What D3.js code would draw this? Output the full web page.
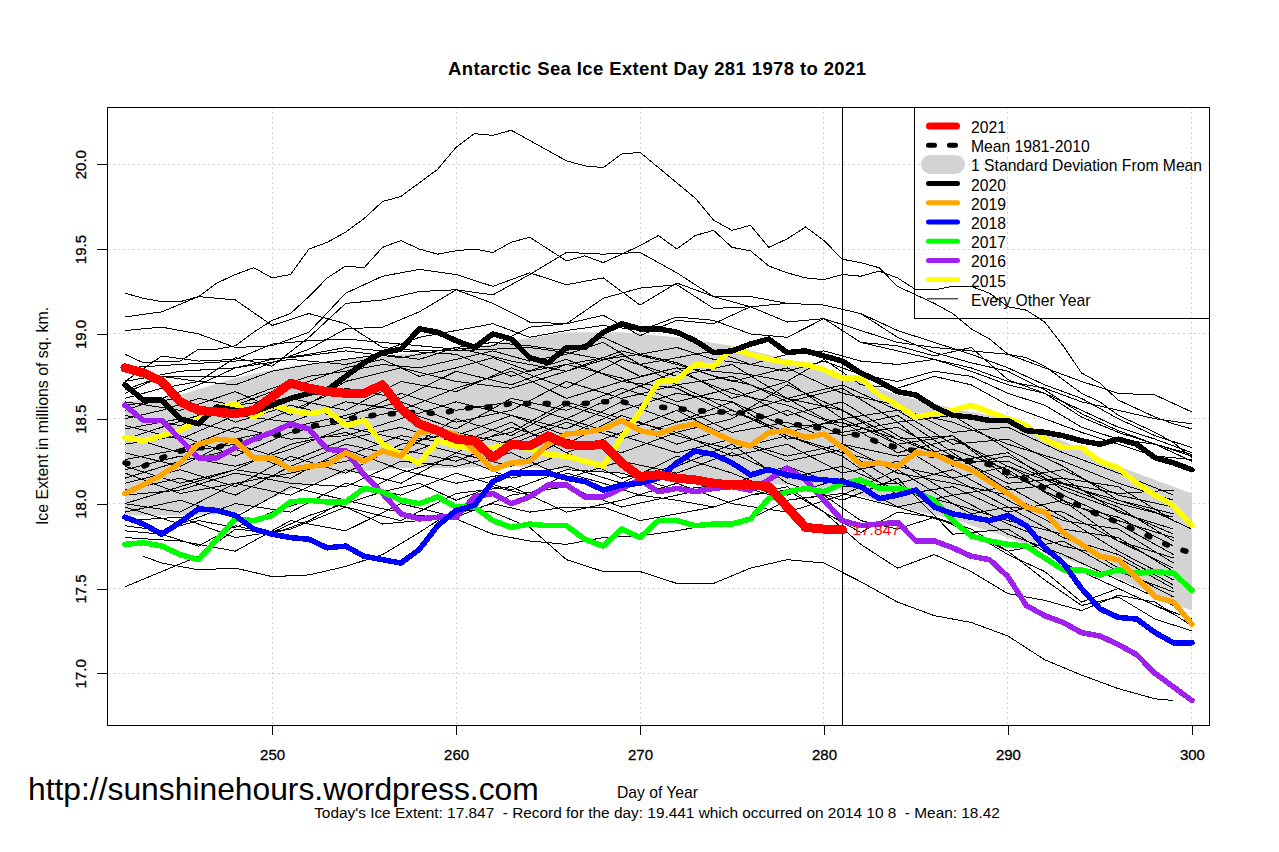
<!DOCTYPE html>
<html>
<head>
<meta charset="utf-8">
<title>Antarctic Sea Ice Extent</title>
<script src="https://cdn.jsdelivr.net/npm/d3@7/dist/d3.min.js"></script>
<style>
html, body { margin: 0; padding: 0; background: #fff; }
text { font-family: "Liberation Sans", Arial, sans-serif; fill: #000; white-space: pre; }
</style>
</head>
<body>
<script>
var xTicks = [250, 260, 270, 280, 290, 300];
var yTicks = [17.0, 17.5, 18.0, 18.5, 19.0, 19.5, 20.0];

var days = d3.range(242, 301);
var evenDays = d3.range(242, 301, 2);
var thirdDays = d3.range(242, 300, 3);
var lowestDays = [243].concat(d3.range(244, 299, 2), [299]);
var bandDays = thirdDays.concat([300]);

var ice2021 = [18.80,18.77,18.72,18.60,18.55,18.54,18.53,18.55,18.63,18.71,18.68,18.66,18.65,18.65,18.70,18.56,18.47,18.43,18.38,18.37,18.27,18.35,18.34,18.40,18.35,18.34,18.35,18.24,18.16,18.17,18.15,18.14,18.12,18.11,18.11,18.10,17.98,17.86,17.85,17.847];
var ice2020 = [18.70,18.61,18.61,18.50,18.47,18.57,18.55,18.54,18.58,18.62,18.65,18.67,18.75,18.83,18.89,18.91,19.03,19.01,18.96,18.92,19.00,18.97,18.86,18.83,18.92,18.92,19.01,19.06,19.03,19.03,19.01,18.96,18.89,18.90,18.94,18.97,18.89,18.90,18.87,18.84,18.77,18.72,18.66,18.64,18.57,18.52,18.51,18.49,18.49,18.43,18.42,18.40,18.37,18.35,18.38,18.35,18.27,18.24,18.20];
var ice2019 = [18.06,18.11,18.17,18.24,18.35,18.38,18.37,18.27,18.27,18.20,18.22,18.23,18.30,18.25,18.31,18.28,18.42,18.43,18.41,18.31,18.20,18.24,18.25,18.35,18.41,18.42,18.44,18.49,18.43,18.41,18.45,18.47,18.42,18.37,18.34,18.42,18.43,18.39,18.41,18.33,18.23,18.24,18.22,18.30,18.29,18.24,18.20,18.13,18.06,17.98,17.95,17.83,17.76,17.69,17.67,17.56,17.45,17.42,17.29];
var ice2018 = [17.92,17.88,17.82,17.89,17.97,17.96,17.93,17.85,17.82,17.80,17.79,17.74,17.75,17.69,17.67,17.65,17.73,17.87,17.96,17.99,18.13,18.18,18.18,18.18,18.15,18.13,18.08,18.11,18.12,18.15,18.24,18.31,18.29,18.24,18.17,18.20,18.17,18.15,18.14,18.13,18.10,18.03,18.05,18.08,17.98,17.94,17.92,17.90,17.93,17.87,17.74,17.65,17.50,17.38,17.33,17.32,17.24,17.18,17.18];
var ice2017 = [17.76,17.77,17.75,17.70,17.67,17.79,17.91,17.90,17.93,18.01,18.02,18.01,18.01,18.09,18.07,18.02,18.00,18.04,17.98,17.98,17.90,17.86,17.88,17.87,17.87,17.79,17.75,17.85,17.80,17.90,17.90,17.87,17.88,17.88,17.91,18.03,18.07,18.09,18.07,18.12,18.14,18.09,18.09,18.07,18.02,17.90,17.81,17.78,17.76,17.75,17.68,17.61,17.61,17.58,17.61,17.59,17.60,17.59,17.49];
var ice2016 = [18.58,18.49,18.49,18.38,18.27,18.27,18.33,18.38,18.42,18.47,18.44,18.32,18.31,18.17,18.06,17.94,17.91,17.92,17.92,18.04,18.06,18.00,18.04,18.11,18.11,18.04,18.04,18.09,18.14,18.07,18.09,18.07,18.09,18.10,18.08,18.14,18.21,18.14,18.02,17.90,17.87,17.88,17.89,17.78,17.78,17.74,17.69,17.67,17.57,17.40,17.34,17.30,17.24,17.22,17.17,17.11,17.00,16.92,16.84];
var ice2015 = [18.39,18.37,18.40,18.43,18.50,18.56,18.59,18.51,18.58,18.55,18.53,18.55,18.46,18.49,18.35,18.29,18.24,18.37,18.34,18.32,18.33,18.35,18.32,18.29,18.28,18.25,18.22,18.39,18.54,18.72,18.73,18.82,18.81,18.91,18.88,18.85,18.83,18.82,18.79,18.74,18.74,18.64,18.58,18.51,18.53,18.55,18.58,18.54,18.50,18.46,18.38,18.33,18.33,18.25,18.21,18.12,18.05,17.99,17.87];
var iceMean = [18.24,18.22,18.27,18.31,18.33,18.33,18.37,18.38,18.40,18.42,18.45,18.48,18.50,18.51,18.53,18.53,18.54,18.53,18.55,18.57,18.57,18.59,18.59,18.59,18.59,18.59,18.60,18.60,18.58,18.57,18.56,18.55,18.54,18.54,18.53,18.50,18.47,18.46,18.44,18.42,18.40,18.36,18.33,18.31,18.28,18.27,18.25,18.23,18.18,18.14,18.09,18.04,17.98,17.93,17.89,17.84,17.79,17.74,17.71];

var bandUpper = [18.60,18.64,18.74,18.81,18.85,18.88,18.90,18.96,19.01,19.01,18.98,18.93,18.85,18.76,18.64,18.56,18.50,18.37,18.22,18.10,18.06];
var bandLower = [17.93,17.93,17.94,18.08,18.18,18.21,18.21,18.22,18.20,18.18,18.14,18.13,18.11,18.08,17.98,17.91,17.80,17.68,17.56,17.41,17.37];

// the two highest years, read day by day
var thin01 = [19.24,19.21,19.19,19.19,19.22,19.30,19.35,19.39,19.33,19.35,19.50,19.54,19.60,19.68,19.78,19.81,19.89,19.97,20.10,20.18,20.17,20.20,20.14,20.08,20.02,19.99,19.98,20.06,20.07,19.98,19.89,19.80,19.67,19.61,19.64,19.51,19.56,19.63,19.55,19.44,19.42,19.39,19.28,19.23,19.18,19.12,19.03,18.97,18.88,18.86,18.81,18.73,18.65,18.60,18.52,18.47,18.42,18.36,18.27];
var thin02 = [18.88,18.83,18.84,18.84,18.91,18.91,18.93,19.01,19.08,19.12,19.22,19.33,19.40,19.39,19.51,19.55,19.50,19.47,19.49,19.50,19.48,19.54,19.57,19.50,19.43,19.46,19.42,19.47,19.52,19.58,19.50,19.58,19.61,19.51,19.49,19.40,19.36,19.33,19.32,19.35,19.34,19.37,19.33,19.26,19.26,19.28,19.28,19.24,19.16,19.14,19.07,18.93,18.77,18.71,18.61,18.56,18.51,18.47,18.44];

var thin03 = [19.02,19.04,19.00,18.92,18.93,19.01,19.24,19.34,19.38,19.35,19.28,19.36,19.29,19.33,19.17,19.30,19.22,19.16,19.07,19.09,18.95,18.90,18.85,18.78,18.70,18.65,18.55,18.45,18.38,18.30];
var thin04 = [18.67,18.75,18.72,18.86,18.81,18.98,19.18,19.20,19.25,19.26,19.23,19.35,19.48,19.47,19.48,19.36,19.22,19.22,19.18,19.17,19.12,19.02,18.95,18.88,18.80,18.70,18.62,18.50,18.40,18.33];
var thin05 = [19.10,19.13,19.22,19.20,19.05,19.12,19.06,18.92,18.90,18.90,18.91,18.92,18.89,18.85,18.88,18.83,18.75,18.70,18.62,18.50,18.45,18.38,18.30,18.25,18.25,18.15,18.08,18.02,17.95,17.85];
var thin06 = [18.72,18.87,18.84,18.85,18.94,18.96,18.97,18.95,18.93,18.91,18.93,19.04,19.06,19.11,18.99,19.08,19.06,19.16,19.07,19.09,18.95,18.93,18.87,18.92,18.73,18.65,18.51,18.42,18.35,18.28];
var thin07 = [18.65,18.75,18.75,18.75,18.83,18.91,19.03,19.04,19.13,19.26,19.18,19.07,19.06,19.21,19.27,19.29,19.15,19.16,19.18,19.17,19.12,18.98,18.89,18.83,18.78,18.67,18.53,18.43,18.35,18.25];
var thin08 = [18.55,18.62,18.70,18.80,18.85,18.88,18.92,18.90,18.98,19.02,19.06,18.98,19.02,19.05,19.02,19.10,19.08,19.00,18.98,19.09,19.02,18.95,18.92,18.90,18.88,18.80,18.72,18.65,18.64,18.54];
var thin09 = [18.62,18.68,18.72,18.70,18.78,18.82,18.85,18.88,18.85,18.92,18.95,18.93,18.90,18.98,18.88,18.92,18.85,18.82,18.88,18.90,18.84,18.82,18.85,18.80,18.72,18.68,18.60,18.55,18.50,18.47];
var thin10 = [18.38,18.45,18.52,18.60,18.68,18.75,18.78,18.82,18.80,18.85,18.90,18.84,18.88,18.95,18.82,18.86,18.90,18.82,18.78,18.84,18.76,18.72,18.78,18.75,18.65,18.58,18.45,18.38,18.35,18.29];
var thin11 = [18.50,18.55,18.62,18.58,18.66,18.72,18.80,18.85,18.75,18.80,18.86,18.78,18.82,18.86,18.75,18.80,18.78,18.76,18.72,18.85,18.70,18.68,18.75,18.70,18.58,18.50,18.42,18.35,18.28,18.26];
var thin12 = [17.69,17.65,17.61,17.62,17.57,17.58,17.63,17.70,17.83,17.97,17.95,17.86,17.67,17.60,17.60,17.53,17.53,17.62,17.67,17.65,17.54,17.42,17.34,17.30,17.22,17.08,16.99,16.91,16.85,16.84];
var thin13 = [17.51,17.60,17.69,17.85,17.83,17.93,18.00,18.07,18.12,18.02,18.10,18.05,18.18,18.12,18.05,18.02,17.98,18.05,18.10,17.95,17.76,17.62,17.70,17.60,17.47,17.43,17.37,17.46,17.42,17.28];
var thin14 = [17.84,17.82,17.75,17.87,17.82,17.90,18.02,17.97,17.93,17.91,17.82,17.78,17.76,17.80,17.81,17.84,17.88,17.91,18.02,18.05,17.90,17.85,17.92,17.85,17.72,17.55,17.40,17.45,17.32,17.25];
var thin15 = [17.87,17.84,17.90,17.86,17.95,18.02,17.98,17.88,17.90,17.94,18.00,17.95,17.98,17.98,17.90,17.94,17.98,18.05,18.08,17.95,17.83,17.95,17.92,17.83,17.70,17.60,17.42,17.50,17.40,17.32];

var inner01 = [18.08,18.15,18.05,18.22,18.35,18.28,18.40,18.52,18.44,18.60,18.48,18.55,18.40,18.30,18.22,18.15,17.98,17.95,17.78,17.62];
var inner02 = [18.30,18.22,18.38,18.45,18.52,18.60,18.48,18.55,18.72,18.62,18.70,18.55,18.42,18.50,18.35,18.40,18.18,18.02,17.88,17.70];
var inner03 = [18.00,17.95,18.12,18.05,18.20,18.12,18.30,18.22,18.38,18.30,18.42,18.28,18.35,18.18,18.25,18.05,18.10,17.92,17.72,17.55];
var inner04 = [18.44,18.50,18.42,18.55,18.68,18.62,18.78,18.70,18.82,18.74,18.60,18.68,18.52,18.60,18.40,18.25,18.30,18.08,17.96,17.82];
var inner05 = [18.15,18.25,18.32,18.20,18.28,18.40,18.35,18.48,18.30,18.42,18.55,18.38,18.25,18.32,18.12,18.20,18.02,17.85,17.80,17.60];
var inner06 = [17.95,18.02,17.92,18.10,18.02,18.18,18.28,18.15,18.22,18.12,18.28,18.18,18.05,18.15,17.98,18.05,17.88,17.75,17.68,17.50];
var inner07 = [18.52,18.46,18.58,18.62,18.55,18.72,18.66,18.80,18.68,18.85,18.75,18.82,18.62,18.70,18.55,18.48,18.35,18.25,18.12,18.02];
var inner08 = [18.22,18.12,18.20,18.35,18.42,18.30,18.50,18.40,18.58,18.48,18.35,18.45,18.55,18.40,18.45,18.28,18.12,18.15,17.95,17.85];
var inner09 = [18.35,18.40,18.28,18.42,18.48,18.55,18.44,18.62,18.55,18.68,18.58,18.42,18.48,18.35,18.28,18.32,18.20,18.00,17.92,17.75];
var inner10 = [18.05,18.08,18.18,18.12,18.10,18.25,18.22,18.30,18.15,18.25,18.18,18.30,18.15,18.22,18.08,18.00,17.90,17.82,17.62,17.45];
var inner11 = [18.60,18.55,18.66,18.52,18.72,18.80,18.72,18.68,18.78,18.90,18.82,18.72,18.80,18.65,18.58,18.42,18.45,18.30,18.18,18.05];
var inner12 = [18.12,18.20,18.10,18.28,18.18,18.35,18.42,18.35,18.48,18.38,18.48,18.60,18.45,18.48,18.30,18.38,18.22,18.10,17.98,17.78];
var inner13 = [17.98,17.88,18.00,17.95,18.12,18.05,18.18,18.08,18.20,18.18,18.08,18.12,18.22,18.10,18.12,17.92,17.98,17.80,17.70,17.52];
var inner14 = [18.26,18.32,18.45,18.38,18.40,18.50,18.60,18.52,18.40,18.55,18.65,18.60,18.38,18.42,18.48,18.22,18.28,18.12,18.00,17.92];
var inner15 = [18.46,18.38,18.52,18.48,18.60,18.55,18.68,18.78,18.62,18.72,18.68,18.52,18.62,18.55,18.38,18.40,18.15,18.20,18.05,17.98];
var inner16 = [18.18,18.06,18.12,18.18,18.25,18.32,18.25,18.38,18.50,18.40,18.30,18.38,18.28,18.35,18.18,18.12,18.05,17.90,17.85,17.65];
var inner17 = [18.80,18.82,18.84,18.86,18.90,18.86,18.92,18.84,18.78,18.88,18.70,18.75,18.60,18.68,18.48,18.52,18.32,18.15,18.10,17.90];
var inner18 = [18.72,18.78,18.80,18.85,18.82,18.90,18.88,18.75,18.85,18.72,18.80,18.62,18.72,18.50,18.55,18.35,18.38,18.22,18.02,17.94];
var inner19 = [17.80,17.78,17.72,17.90,17.84,18.00,17.92,18.05,18.10,17.98,18.05,18.12,18.02,18.06,17.98,17.88,17.72,17.78,17.60,17.48];
var inner20 = [17.90,17.92,17.80,17.85,17.98,17.90,18.06,18.10,17.95,18.02,18.12,18.00,17.95,18.05,18.20,18.00,17.82,17.70,17.55,17.40];
var inner21 = [18.40,18.30,18.35,18.25,18.38,18.45,18.35,18.42,18.60,18.50,18.42,18.50,18.70,18.55,18.35,18.15,18.22,18.05,17.90,17.80];
var inner22 = [18.58,18.62,18.48,18.58,18.50,18.65,18.55,18.60,18.50,18.65,18.78,18.65,18.58,18.45,18.52,18.30,18.08,18.12,18.06,18.08];
var inner23 = [18.20,18.28,18.22,18.32,18.45,18.38,18.30,18.45,18.35,18.52,18.40,18.32,18.40,18.28,18.05,18.10,17.95,18.02,17.78,17.68];
var inner24 = [18.00,18.10,18.20,18.15,18.32,18.20,18.12,18.18,18.30,18.15,18.22,18.35,18.12,18.02,18.15,17.82,17.85,17.65,17.50,17.35];

var thinDaily = [thin01, thin02];
var thinEven = [thin03, thin04, thin05, thin06, thin07, thin08, thin09, thin10, thin11, thin13, thin14, thin15];
var thinThird = [inner01, inner02, inner03, inner04, inner05, inner06, inner07, inner08, inner09, inner10, inner11, inner12,
    inner13, inner14, inner15, inner16, inner17, inner18, inner19, inner20, inner21, inner22, inner23, inner24];

var legendLabels = ["2021", "Mean 1981-2010", "1 Standard Deviation From Mean", "2020", "2019", "2018", "2017", "2016", "2015", "Every Other Year"];
var legendColors = ["#ff0000", "#000000", "#d3d3d3", "#000000", "#ffa500", "#0000ff", "#00ff00", "#a020f0", "#ffff00", "#000000"];
var legendWidths = [7, 5, 19, 5, 5, 5, 5, 5, 5, 1];

var title = "Antarctic Sea Ice Extent Day 281 1978 to 2021";
var footer = "Today's Ice Extent: 17.847  - Record for the day: 19.441 which occurred on 2014 10 8  - Mean: 18.42";

var width = 1279, height = 852;
var left = 107.5, right = 1209, top_ = 107, bottom = 725.3;

var x = d3.scaleLinear().domain([241.05, 300.93]).range([left, right]);
var y = d3.scaleLinear().domain([16.694, 20.337]).range([bottom, top_]);

var svg = d3.select("body").append("svg")
    .attr("width", width).attr("height", height)
    .style("display", "block");

// grid
svg.append("g").attr("shape-rendering", "crispEdges").selectAll("line").data(xTicks).join("line")
    .attr("x1", function(d) { return x(d); }).attr("x2", function(d) { return x(d); })
    .attr("y1", top_).attr("y2", bottom)
    .attr("stroke", "#d3d3d3").attr("stroke-dasharray", "2 3");
svg.append("g").attr("shape-rendering", "crispEdges").selectAll("line").data(yTicks).join("line")
    .attr("x1", left).attr("x2", right)
    .attr("y1", function(d) { return y(d); }).attr("y2", function(d) { return y(d); })
    .attr("stroke", "#d3d3d3").attr("stroke-dasharray", "2 3");

// standard deviation band
var band = d3.area()
    .x(function(d) { return x(d); })
    .y0(function(d, i) { return y(bandLower[i]); })
    .y1(function(d, i) { return y(bandUpper[i]); });
svg.append("path").attr("d", band(bandDays)).attr("fill", "#d3d3d3");

function lineFor(dayList) {
    return d3.line()
        .x(function(d, i) { return x(dayList[i]); })
        .y(function(d) { return y(d); });
}

var thinG = svg.append("g").attr("fill", "none").attr("stroke", "#000").attr("stroke-width", 1)
    .attr("shape-rendering", "crispEdges");
thinDaily.forEach(function(s) { thinG.append("path").attr("d", lineFor(days)(s)); });
thinEven.forEach(function(s) { thinG.append("path").attr("d", lineFor(evenDays)(s)); });
thinThird.forEach(function(s) { thinG.append("path").attr("d", lineFor(thirdDays)(s)); });
thinG.append("path").attr("d", lineFor(lowestDays)(thin12));

// mean, thick round dots
svg.append("path").attr("d", lineFor(days)(iceMean))
    .attr("fill", "none").attr("stroke", "#000").attr("stroke-width", 5.5)
    .attr("stroke-linecap", "round").attr("stroke-dasharray", "3 16.5");

// day marker
svg.append("line")
    .attr("x1", x(281)).attr("x2", x(281)).attr("y1", top_).attr("y2", bottom)
    .attr("stroke", "#000").attr("shape-rendering", "crispEdges");

// highlighted years, oldest first so the newer ones sit on top
var thick = [
    [ice2015, "#ffff00", 5.5], [ice2016, "#a020f0", 5.5], [ice2017, "#00ff00", 5.5],
    [ice2018, "#0000ff", 5.5], [ice2019, "#ffa500", 5.5], [ice2020, "#000000", 5.5],
    [ice2021, "#ff0000", 9]
];
thick.forEach(function(t) {
    svg.append("path").attr("d", lineFor(days)(t[0]))
        .attr("fill", "none").attr("stroke", t[1]).attr("stroke-width", t[2])
        .attr("stroke-linejoin", "round").attr("stroke-linecap", "round")
        .attr("shape-rendering", "crispEdges");
});

svg.append("text").attr("x", x(281) + 10).attr("y", y(17.847) + 5)
    .attr("font-size", 15.5).style("fill", "#ff0000").text("17.847");

// plot box
svg.append("rect").attr("x", left).attr("y", top_)
    .attr("width", right - left).attr("height", bottom - top_)
    .attr("fill", "none").attr("stroke", "#000").attr("shape-rendering", "crispEdges");

// axes
var xAxis = d3.axisBottom(x).tickValues(xTicks).tickSize(10).tickPadding(14).tickFormat(d3.format("d"));
var xG = svg.append("g").attr("transform", "translate(0," + bottom + ")").call(xAxis);
xG.select(".domain").remove();
xG.selectAll("text").attr("font-size", 15).attr("stroke", "#000").attr("stroke-width", 0.3);

var yAxis = d3.axisLeft(y).tickValues(yTicks).tickSize(10.5).tickFormat(d3.format(".1f"));
var yG = svg.append("g").attr("transform", "translate(" + left + ",0)").call(yAxis);
yG.select(".domain").remove();
yG.selectAll("text")
    .attr("font-size", 15).attr("stroke", "#000").attr("stroke-width", 0.3)
    .attr("x", 0).attr("dy", 0)
    .attr("text-anchor", "middle")
    .attr("transform", "translate(-21.8,0) rotate(-90)");
svg.selectAll(".tick line").attr("shape-rendering", "crispEdges");

// legend
var legend = svg.append("g");
legend.append("rect").attr("x", 914.5).attr("y", top_)
    .attr("width", right - 914.5).attr("height", 318.3 - top_)
    .attr("fill", "none").attr("stroke", "#000").attr("shape-rendering", "crispEdges");
legendLabels.forEach(function(label, i) {
    var ly = 128 + i * 19.2;
    var x1 = i == 2 ? 930.5 : i == 9 ? 927 : i == 0 ? 929.5 : 928.5;
    var x2 = i == 2 ? 955.5 : i == 9 ? 958 : i == 0 ? 956.5 : 957.5;
    var sample = legend.append("line")
        .attr("x1", x1).attr("x2", x2)
        .attr("y1", ly - 2).attr("y2", ly - 2)
        .attr("stroke", legendColors[i]).attr("stroke-width", legendWidths[i])
        .attr("stroke-linecap", i == 9 ? "butt" : "round");
    if (i == 1) sample.attr("stroke-dasharray", "6 15");
    legend.append("text").attr("x", 971).attr("y", ly + 5)
        .attr("font-size", 15.7).text(label);
});

// titles
svg.append("text").attr("x", 657).attr("y", 75).attr("text-anchor", "middle")
    .attr("font-size", 18.5).attr("font-weight", "bold")
    .attr("textLength", 418).attr("lengthAdjust", "spacing").text(title);
svg.append("text").attr("x", 657.5).attr("y", 798).attr("text-anchor", "middle")
    .attr("font-size", 15.7).text("Day of Year");
svg.append("text").attr("x", 657).attr("y", 818).attr("text-anchor", "middle")
    .attr("font-size", 15.4).text(footer);
svg.append("text").attr("transform", "translate(47.5,416) rotate(-90)").attr("text-anchor", "middle")
    .attr("font-size", 15.9).text("Ice Extent in millions of sq. km.");
svg.append("text").attr("x", 28).attr("y", 800)
    .attr("font-size", 31.8).text("http://sunshinehours.wordpress.com");
</script>
</body>
</html>
